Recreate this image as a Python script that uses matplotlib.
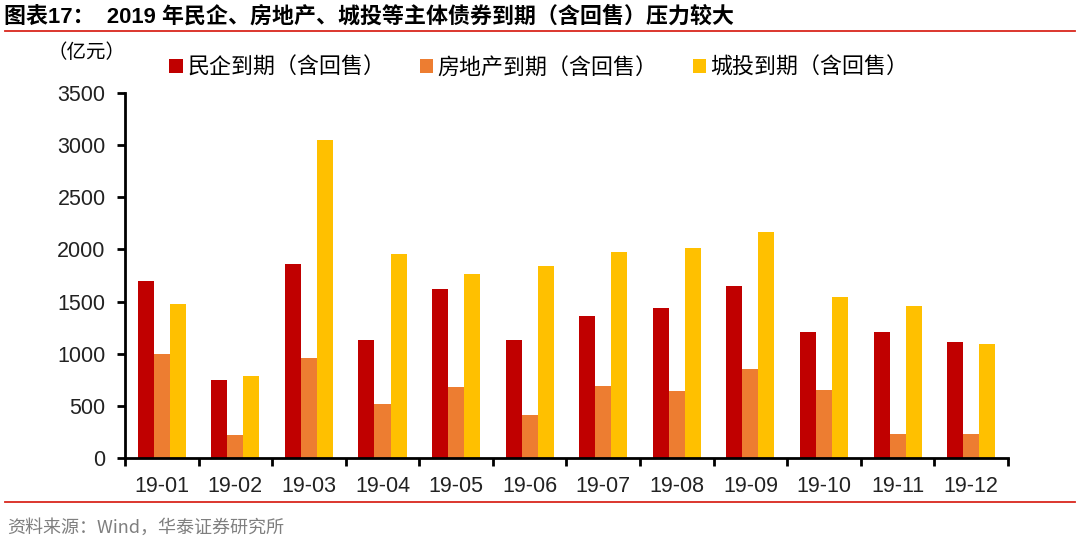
import numpy as np
import matplotlib.pyplot as plt
from matplotlib.lines import Line2D

plt.rcParams['font.family'] = ['Liberation Sans', 'Noto Sans CJK SC', 'DejaVu Sans']

months = ['19-01', '19-02', '19-03', '19-04', '19-05', '19-06',
          '19-07', '19-08', '19-09', '19-10', '19-11', '19-12']
private = [1700, 745, 1860, 1135, 1620, 1130, 1365, 1440, 1645, 1210, 1210, 1115]
property_ = [1000, 220, 960, 520, 680, 415, 690, 645, 855, 655, 230, 230]
lgfv = [1480, 790, 3050, 1955, 1765, 1845, 1975, 2010, 2165, 1545, 1460, 1090]
series_names = ['民企到期（含回售）', '房地产到期（含回售）', '城投到期（含回售）']
colors = ['#C00000', '#ED7D31', '#FFC000']

fig = plt.figure(figsize=(10.8, 5.46), dpi=100)
ax = fig.add_axes([0.1157, 0.1612, 0.8176, 0.6685])

x = np.arange(len(months))
w = 0.218
for i, (vals, name, c) in enumerate(zip([private, property_, lgfv], series_names, colors)):
    ax.bar(x + (i - 1) * w, vals, width=w, color=c, label=name)

ax.set_xlim(-0.5, len(months) - 0.5)
ax.set_ylim(0, 3500)
ax.set_yticks(np.arange(0, 3501, 500))
ax.set_xticks(x)
ax.set_xticklabels(months, fontsize=15.5, color='#222222')
ax.set_xticks(np.arange(-0.5, len(months)), minor=True)
ax.tick_params(axis='x', which='major', length=0, pad=13)
ax.tick_params(axis='x', which='minor', length=6, width=2, direction='out', color='black')
ax.tick_params(axis='y', length=6, width=2, direction='out', labelsize=15.5, labelcolor='#222222', pad=8)
for s in ['top', 'right']:
    ax.spines[s].set_visible(False)
ax.spines['left'].set_linewidth(2)
ax.spines['bottom'].set_linewidth(2)

ax.legend(loc='center left', bbox_to_anchor=(0.028, 1.068), ncol=3, frameon=False,
          handlelength=0.6, handleheight=0.6, handletextpad=0.2,
          columnspacing=1.6, prop={'family': ['Noto Sans CJK SC'], 'size': 15.8})

fig.text(0.044, 0.904, '（亿元）', fontsize=14, family=['Noto Sans CJK SC'], va='center')

fig.text(0.004, 0.970, '图表17：  2019 年民企、房地产、城投等主体债券到期（含回售）压力较大',
         fontsize=15.8, fontweight='bold', va='center',
         family=['Liberation Sans', 'Noto Sans CJK SC'])
fig.add_artist(Line2D([0.005, 0.995], [0.943, 0.943], color='#D9261C', lw=1.3,
                      transform=fig.transFigure))
fig.add_artist(Line2D([0.005, 0.995], [0.081, 0.081], color='#D9261C', lw=1.3,
                      transform=fig.transFigure))
fig.text(0.007, 0.034, '资料来源：Wind，华泰证券研究所', fontsize=13, color='#7F7F7F',
         va='center', family=['Noto Sans CJK SC', 'Liberation Sans'])

fig.savefig('out.png', dpi=100)
